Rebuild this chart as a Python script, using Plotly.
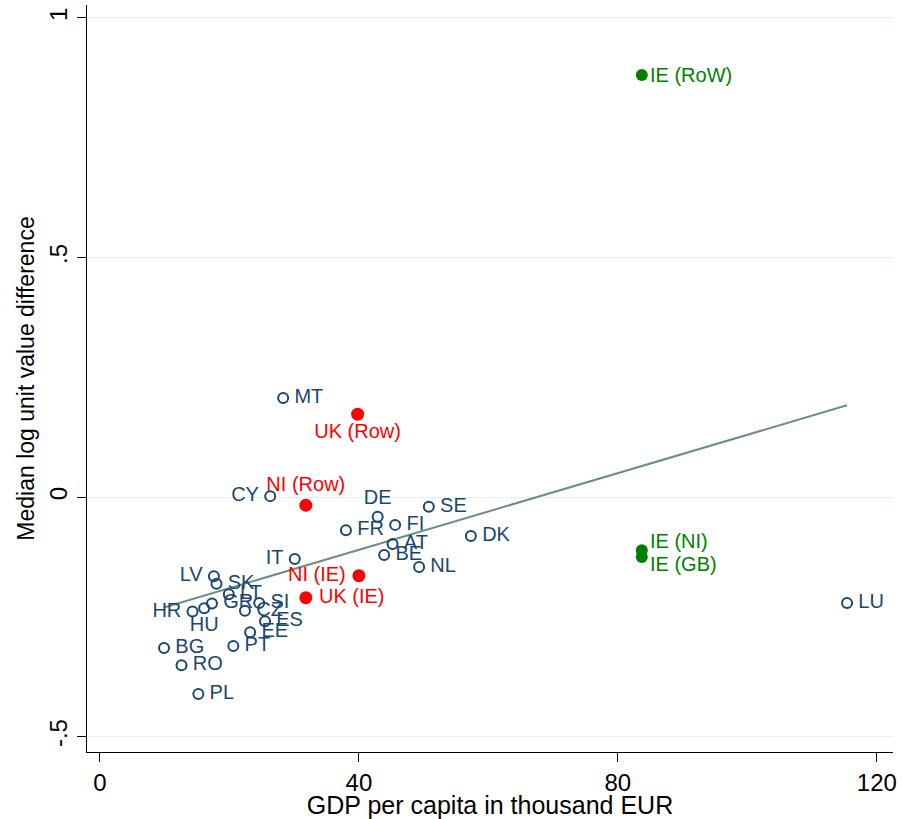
"""Median log unit value difference vs GDP per capita"""
import plotly.graph_objects as go

# EU countries (hollow navy markers)
eu_names = ["AT", "BE", "BG", "CY", "CZ", "DE", "DK", "EE", "ES", "FI", "FR", "GR", "HR",
            "HU", "IT", "LT", "LU", "LV", "MT", "NL", "PL", "PT", "RO", "SE", "SI", "SK"]
eu_gdp = [45.2, 43.9, 9.9, 26.3, 22.4, 42.9, 57.3, 23.2, 25.5, 45.6, 38.0, 17.3, 14.3,
          16.1, 30.1, 19.9, 115.4, 17.6, 28.3, 49.3, 15.2, 20.6, 12.6, 50.8, 24.6, 18.0]
eu_diff = [-0.098, -0.121, -0.315, 0.002, -0.237, -0.041, -0.081, -0.282, -0.259, -0.058,
           -0.069, -0.222, -0.239, -0.232, -0.129, -0.203, -0.221, -0.165, 0.207, -0.146,
           -0.411, -0.311, -0.351, -0.020, -0.221, -0.181]
eu_pos = ["middle right", "middle right", "middle right", "middle left", "middle right",
          "top center", "middle right", "middle right", "middle right", "middle right",
          "middle right", "middle right", "middle left", "bottom center", "middle left",
          "middle right", "middle right", "middle left", "middle right", "middle right",
          "middle right", "middle right", "middle right", "middle right", "middle right",
          "middle right"]

# UK / NI (red)
uk_names = ["UK (Row)", "NI (Row)", "NI (IE)", "UK (IE)"]
uk_gdp = [39.8, 31.8, 40.0, 31.8]
uk_diff = [0.173, -0.017, -0.164, -0.210]
uk_pos = ["bottom center", "top center", "middle left", "middle right"]

# Ireland (green)
ie_names = ["IE (RoW)", "IE (NI)", "IE (GB)"]
ie_gdp = [83.7, 83.7, 83.7]
ie_diff = [0.881, -0.111, -0.125]
ie_yshift = [0, 9, -7]

# fitted line
fit_intercept = -0.270
fit_slope = 0.0040

NAVY = "#1a476f"
RED = "#ff0000"
GREEN = "#008000"
FONT = "Arial, Liberation Sans, sans-serif"
LABEL_SIZE = 20
GAP = "\u2009"


def pad(names, positions):
    """ADD A SMALL GAP BETWEEN MARKER AND SIDE LABELS"""
    out = []
    for n, p in zip(names, positions):
        if p.endswith("right"):
            n = GAP + n
        elif p.endswith("left"):
            n = n + GAP
        out.append(n)
    return out


fig = go.Figure()

x_fit = [min(eu_gdp), max(eu_gdp)]
fig.add_trace(go.Scatter(
    x=x_fit,
    y=[fit_intercept + fit_slope * v for v in x_fit],
    mode="lines",
    line=dict(color="#6e8e84", width=2),
    showlegend=False,
))

fig.add_trace(go.Scatter(
    x=eu_gdp, y=eu_diff, text=pad(eu_names, eu_pos), mode="markers+text",
    textposition=eu_pos,
    textfont=dict(color=NAVY, size=LABEL_SIZE, family=FONT),
    marker=dict(symbol="circle-open", size=10, color=NAVY, line=dict(width=2, color=NAVY)),
    showlegend=False,
))

fig.add_trace(go.Scatter(
    x=uk_gdp, y=uk_diff, text=pad(uk_names, uk_pos), mode="markers+text",
    textposition=uk_pos,
    textfont=dict(color=RED, size=LABEL_SIZE, family=FONT),
    marker=dict(symbol="circle", size=13, color=RED),
    showlegend=False,
))

fig.add_trace(go.Scatter(
    x=ie_gdp, y=ie_diff, mode="markers",
    marker=dict(symbol="circle", size=12, color=GREEN),
    showlegend=False,
))

for name, gx, gy, ys in zip(ie_names, ie_gdp, ie_diff, ie_yshift):
    fig.add_annotation(
        text=name,
        x=gx,
        y=gy,
        xref="x",
        yref="y",
        xanchor="left",
        yanchor="middle",
        xshift=6,
        yshift=ys,
        showarrow=False,
        font=dict(color=GREEN, size=LABEL_SIZE, family=FONT),
    )

fig.update_layout(
    width=902,
    height=819,
    margin=dict(l=87, r=9, t=5, b=67),
    paper_bgcolor="white",
    plot_bgcolor="white",
    font=dict(family=FONT, size=22, color="black"),
    xaxis=dict(
        range=[-2.0, 122.5],
        tickvals=[0, 40, 80, 120],
        ticks="outside",
        ticklen=9,
        tickcolor="black",
        tickfont=dict(size=24),
        showline=True,
        linecolor="black",
        linewidth=1,
        showgrid=False,
        zeroline=False,
        automargin=False,
        title=dict(text="GDP per capita in thousand EUR", font=dict(size=25), standoff=2),
    ),
    yaxis=dict(
        range=[-0.532, 1.027],
        tickvals=[-0.5, 0, 0.5, 1],
        ticktext=["-.5", "0", ".5", "1"],
        tickangle=-90,
        ticks="outside",
        ticklen=9,
        tickcolor="black",
        tickfont=dict(size=24),
        showline=True,
        linecolor="black",
        linewidth=1,
        showgrid=True,
        gridcolor="#e6eff1",
        gridwidth=1,
        zeroline=False,
        automargin=False,
        title=dict(text="Median log unit value difference", font=dict(size=23), standoff=4),
    ),
)

fig.write_html(
    "out.html",
    config={"displayModeBar": False},
    post_script="document.body.style.margin='0';",
)
